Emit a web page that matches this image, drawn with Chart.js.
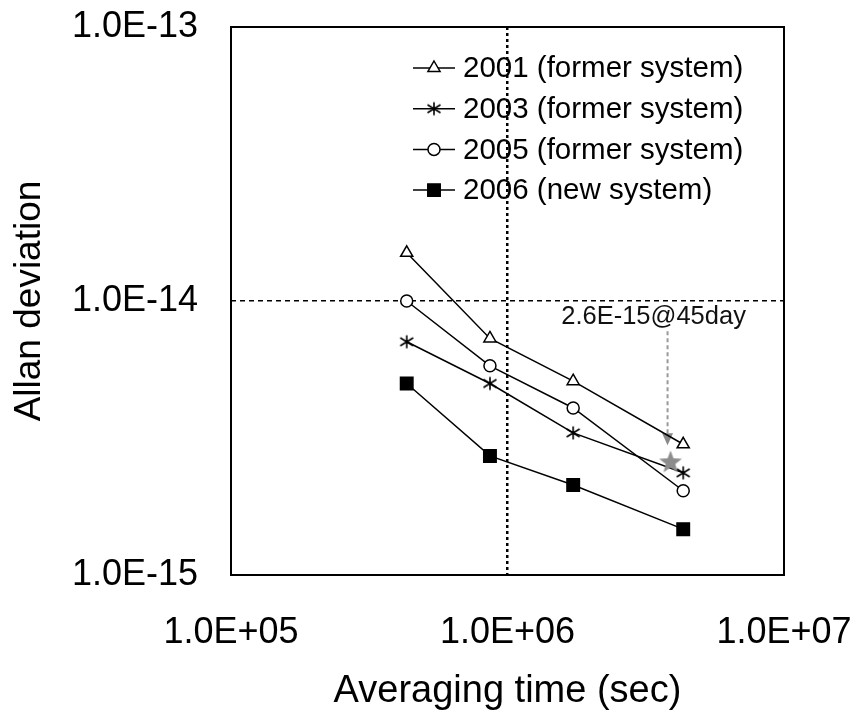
<!DOCTYPE html>
<html>
<head>
<meta charset="utf-8">
<script src="https://cdn.jsdelivr.net/npm/chart.js@4.4.1/dist/chart.umd.min.js"></script>
<style>
  html, body { margin: 0; padding: 0; background: #fff; }
  canvas { display: block; }
</style>
</head>
<body>
<canvas id="adev" width="861" height="715"></canvas>
<script>
// averaging times: 5, 10, 20 and 50 days, in seconds
const tau = [432000, 864000, 1728000, 4320000];

const adev2001 = [1.5e-14, 7.3e-15, 5.1e-15, 3.0e-15];
const adev2003 = [7.1e-15, 5.0e-15, 3.3e-15, 2.36e-15];
const adev2005 = [1.0e-14, 5.8e-15, 4.07e-15, 2.03e-15];
const adev2006 = [5.0e-15, 2.72e-15, 2.13e-15, 1.47e-15];

const seriesLabels = [
  "2001 (former system)",
  "2003 (former system)",
  "2005 (former system)",
  "2006 (new system)"
];

// single highlighted point: 45 days
const targetTau = 3888000;
const targetAdev = 2.6e-15;
const targetLabel = "2.6E-15@45day";

const xTicks = [1e5, 1e6, 1e7];
const yTicks = [1e-15, 1e-14, 1e-13];

const FONT = "'Liberation Sans', Arial, sans-serif";

// 1.0E-14 style labels
function sci(v) {
  const e = Math.round(Math.log10(v));
  const m = v / Math.pow(10, e);
  return m.toFixed(1) + "E" + (e < 0 ? "-" : "+") + String(Math.abs(e)).padStart(2, "0");
}

function toPoints(ys) {
  return tau.map((t, i) => ({ x: t, y: ys[i] }));
}

// "*" marker: vertical stroke plus an X
function asteriskMarker() {
  const c = document.createElement("canvas");
  c.width = 16; c.height = 16;
  const g = c.getContext("2d");
  g.strokeStyle = "#000";
  g.lineWidth = 1.6;
  g.beginPath();
  g.moveTo(8, 1.5);  g.lineTo(8, 14.5);
  g.moveTo(1.5, 4);  g.lineTo(14.5, 12);
  g.moveTo(1.5, 12); g.lineTo(14.5, 4);
  g.stroke();
  return c;
}

// filled five-point star
function starMarker(r, color) {
  const size = Math.ceil(r * 2 + 2);
  const c = document.createElement("canvas");
  c.width = size; c.height = size;
  const g = c.getContext("2d");
  const cx = size / 2, cy = size / 2 + r * 0.1;
  g.fillStyle = color;
  g.beginPath();
  for (let i = 0; i < 10; i++) {
    const a = -Math.PI / 2 + i * Math.PI / 5;
    const rad = i % 2 ? r * 0.42 : r;
    const px = cx + Math.cos(a) * rad, py = cy + Math.sin(a) * rad;
    i ? g.lineTo(px, py) : g.moveTo(px, py);
  }
  g.closePath();
  g.fill();
  return c;
}

const asterisk = asteriskMarker();
const grayStar = starMarker(12, "#8c8c8c");

function drawMarker(ctx, ds, x, y) {
  const r = ds.pointRadius;
  const st = ds.pointStyle;
  if (st instanceof HTMLCanvasElement) {
    ctx.drawImage(st, x - st.width / 2, y - st.height / 2);
    return;
  }
  ctx.lineWidth = ds.pointBorderWidth;
  ctx.strokeStyle = ds.pointBorderColor;
  ctx.fillStyle = ds.pointBackgroundColor;
  ctx.beginPath();
  if (st === "triangle") {
    ctx.moveTo(x, y - r);
    ctx.lineTo(x + 0.866 * r, y + 0.5 * r);
    ctx.lineTo(x - 0.866 * r, y + 0.5 * r);
    ctx.closePath();
  } else if (st === "circle") {
    ctx.arc(x, y, r, 0, Math.PI * 2);
  } else {
    const s = r * Math.SQRT1_2;
    ctx.rect(x - s, y - s, 2 * s, 2 * s);
  }
  ctx.fill();
  ctx.stroke();
}

// legend in the upper right of the plot: line + marker + text
const seriesLegend = {
  id: "seriesLegend",
  afterDraw(chart) {
    const { ctx, chartArea } = chart;
    const x0 = chartArea.left + 182, x1 = x0 + 42, xm = (x0 + x1) / 2;
    let y = chartArea.top + 41;
    chart.data.datasets.filter(d => !d.isTarget).forEach(ds => {
      ctx.save();
      ctx.strokeStyle = "#000";
      ctx.lineWidth = 1.5;
      ctx.beginPath();
      ctx.moveTo(x0, y);
      ctx.lineTo(x1, y);
      ctx.stroke();
      drawMarker(ctx, ds, xm, y);
      ctx.fillStyle = "#000";
      ctx.font = "29.5px " + FONT;
      ctx.textAlign = "left";
      ctx.textBaseline = "middle";
      ctx.fillText(ds.label, x1 + 8, y + 1);
      ctx.restore();
      y += 40.7;
    });
  }
};

// plot frame, plus the arrow and label pointing at the 45-day value
const frameAndNote = {
  id: "frameAndNote",
  beforeDatasetsDraw(chart) {
    const { ctx, chartArea, scales } = chart;
    ctx.save();
    ctx.strokeStyle = "#000";
    ctx.lineWidth = 2;
    ctx.strokeRect(chartArea.left, chartArea.top,
      chartArea.right - chartArea.left, chartArea.bottom - chartArea.top);

    const px = scales.x.getPixelForValue(targetTau);
    const py = scales.y.getPixelForValue(targetAdev);
    const ax = px - 3;

    ctx.fillStyle = "#111";
    ctx.font = "25.5px " + FONT;
    ctx.textAlign = "center";
    ctx.textBaseline = "alphabetic";
    ctx.fillText(targetLabel, px - 17, py - 137);

    ctx.strokeStyle = "#999";
    ctx.lineWidth = 2;
    ctx.setLineDash([4, 3]);
    ctx.beginPath();
    ctx.moveTo(ax, py - 130);
    ctx.lineTo(ax, py - 27);
    ctx.stroke();
    ctx.setLineDash([]);
    ctx.fillStyle = "#888";
    ctx.beginPath();
    ctx.moveTo(ax - 5.5, py - 28);
    ctx.lineTo(ax + 5.5, py - 28);
    ctx.lineTo(ax, py - 16);
    ctx.closePath();
    ctx.fill();
    ctx.restore();
  }
};

const lineStyle = {
  showLine: true,
  borderColor: "#000",
  borderWidth: 1.5,
  pointBorderColor: "#000",
  pointBorderWidth: 1.5
};

new Chart(document.getElementById("adev"), {
  type: "scatter",
  data: {
    datasets: [
      {
        label: targetLabel,
        isTarget: true,
        data: [{ x: targetTau, y: targetAdev }],
        pointStyle: grayStar,
        pointRadius: 12,
        showLine: false
      },
      { label: seriesLabels[0], data: toPoints(adev2001), pointStyle: "triangle",
        pointRadius: 7, pointBackgroundColor: "#fff", ...lineStyle },
      { label: seriesLabels[1], data: toPoints(adev2003), pointStyle: asterisk,
        pointRadius: 8, pointBackgroundColor: "#000", ...lineStyle },
      { label: seriesLabels[2], data: toPoints(adev2005), pointStyle: "circle",
        pointRadius: 6, pointBackgroundColor: "#fff", ...lineStyle },
      { label: seriesLabels[3], data: toPoints(adev2006), pointStyle: "rect",
        pointRadius: 8.8, pointBackgroundColor: "#000", ...lineStyle }
    ]
  },
  options: {
    responsive: false,
    animation: false,
    events: [],
    layout: { padding: { top: 27, right: 77, bottom: 0, left: 0 } },
    plugins: {
      legend: { display: false },
      tooltip: { enabled: false }
    },
    scales: {
      x: {
        type: "logarithmic",
        min: xTicks[0],
        max: xTicks[xTicks.length - 1],
        afterBuildTicks: s => { s.ticks = xTicks.map(v => ({ value: v })); },
        // fixed axis band; label overhang is covered by the layout padding
        afterFit: s => { s.height = 140; s.paddingLeft = 0; s.paddingRight = 0; },
        grid: {
          drawTicks: false,
          lineWidth: 2.5,
          color: c => (c.tick && c.tick.value === xTicks[1]) ? "#000" : "rgba(0,0,0,0)"
        },
        border: { display: false, dash: [3, 3] },
        ticks: {
          color: "#000",
          font: { family: FONT, size: 36 },
          padding: 36,
          maxRotation: 0,
          autoSkip: false,
          callback: v => sci(v)
        },
        title: {
          display: true,
          text: "Averaging time (sec)",
          color: "#000",
          font: { family: FONT, size: 38 },
          padding: { top: 0, bottom: 1 }
        }
      },
      y: {
        type: "logarithmic",
        min: yTicks[0],
        max: yTicks[yTicks.length - 1],
        afterBuildTicks: s => { s.ticks = yTicks.map(v => ({ value: v })); },
        afterFit: s => { s.width = 231; s.paddingTop = 0; s.paddingBottom = 0; },
        grid: {
          drawTicks: false,
          lineWidth: 1.5,
          color: c => (c.tick && c.tick.value === yTicks[1]) ? "#000" : "rgba(0,0,0,0)"
        },
        border: { display: false, dash: [5, 4] },
        ticks: {
          color: "#000",
          font: { family: FONT, size: 36 },
          padding: 33,
          autoSkip: false,
          callback: v => sci(v)
        },
        title: {
          display: true,
          text: "Allan deviation",
          color: "#000",
          font: { family: FONT, size: 37 },
          padding: { top: 8, bottom: 0 }
        }
      }
    }
  },
  plugins: [frameAndNote, seriesLegend]
});
</script>
</body>
</html>
